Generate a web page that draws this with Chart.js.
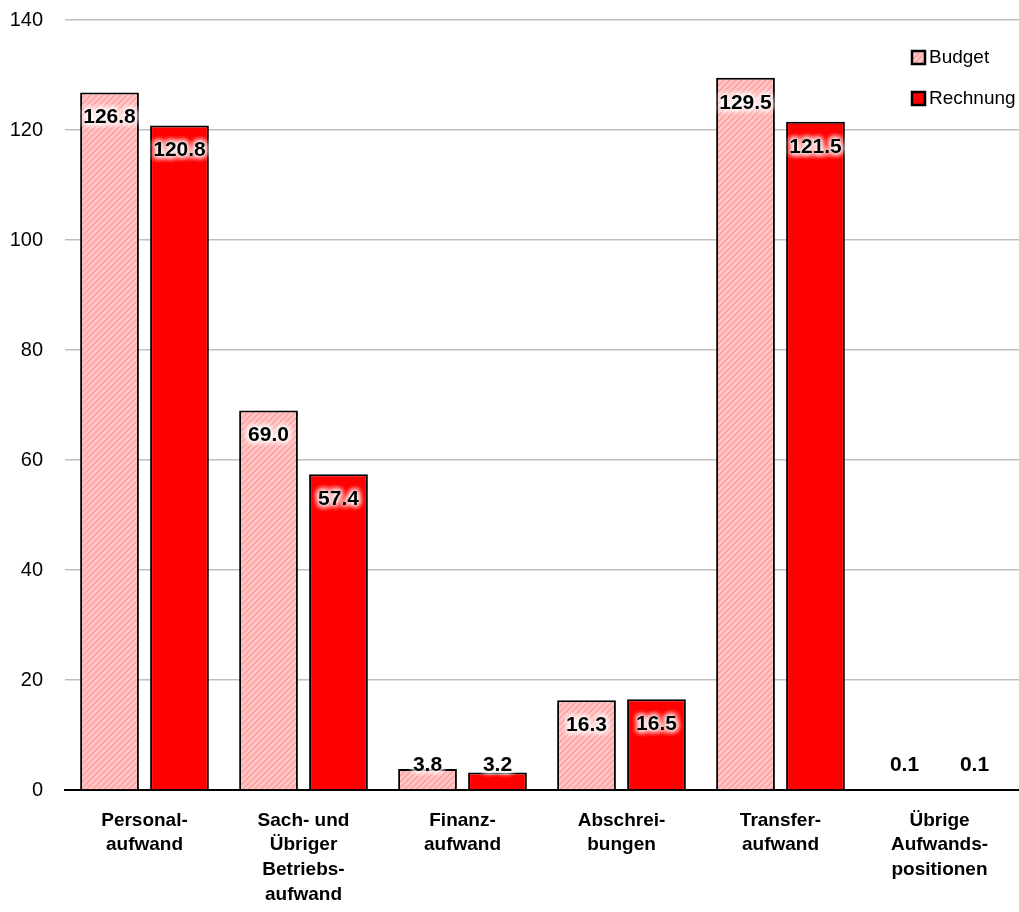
<!DOCTYPE html>
<html lang="de">
<head>
  <meta charset="UTF-8">
  <title>Aufwand Budget vs. Rechnung</title>
  <script src="https://cdn.jsdelivr.net/npm/chart.js"></script>
  <style>
    body { margin: 0; background: #fff; }
    #wrap { width: 1019px; height: 912px; }
  </style>
</head>
<body>
  <div id="wrap"><canvas id="chart"></canvas></div>

  <script>
    const categories = [
      ['Personal-', 'aufwand'],
      ['Sach- und', 'Übriger', 'Betriebs-', 'aufwand'],
      ['Finanz-', 'aufwand'],
      ['Abschrei-', 'bungen'],
      ['Transfer-', 'aufwand'],
      ['Übrige', 'Aufwands-', 'positionen']
    ];
    const budget = [126.8, 69.0, 3.8, 16.3, 129.5, 0.1];
    const rechnung = [120.8, 57.4, 3.2, 16.5, 121.5, 0.1];
    const seriesNames = ['Budget', 'Rechnung'];
    const yTicks = [0, 20, 40, 60, 80, 100, 120, 140];

    function hatch() {
      const c = document.createElement('canvas');
      c.width = 6; c.height = 6;
      const g = c.getContext('2d');
      g.fillStyle = '#ffc6c6';
      g.fillRect(0, 0, 6, 6);
      g.strokeStyle = '#ff9c9c';
      g.lineWidth = 1.4;
      g.beginPath();
      g.moveTo(0, 6); g.lineTo(6, 0);
      g.moveTo(-1, 1); g.lineTo(1, -1);
      g.moveTo(5, 7); g.lineTo(7, 5);
      g.stroke();
      return g.createPattern(c, 'repeat');
    }
    const budgetFill = hatch();

    const font = "'Liberation Sans', Arial, sans-serif";

    // value labels with white halo
    const valueLabels = {
      id: 'valueLabels',
      afterDatasetsDraw(chart) {
        const ctx = chart.ctx;
        ctx.save();
        ctx.font = 'bold 21px ' + font;
        ctx.textAlign = 'center';
        ctx.textBaseline = 'middle';
        chart.data.datasets.forEach((ds, i) => {
          chart.getDatasetMeta(i).data.forEach((bar, j) => {
            const v = ds.data[j];
            const h = bar.base - bar.y;
            const y = h > 40 ? bar.y + 25 : Math.min(bar.y - 3, bar.base - 24);
            const txt = v.toFixed(1);
            ctx.shadowColor = '#fff';
            ctx.shadowBlur = 6;
            ctx.fillStyle = '#fff';
            for (let k = 0; k < 5; k++) ctx.fillText(txt, bar.x, y);
            ctx.shadowBlur = 0;
            ctx.fillStyle = '#000';
            ctx.fillText(txt, bar.x, y);
          });
        });
        ctx.restore();
      }
    };

    // legend in upper right corner
    const boxLegend = {
      id: 'boxLegend',
      afterDraw(chart) {
        const ctx = chart.ctx;
        ctx.save();
        ctx.font = '19px ' + font;
        ctx.textBaseline = 'middle';
        chart.data.datasets.forEach((ds, i) => {
          const y = 58 + i * 41;
          const x = 912;
          ctx.fillStyle = ds.backgroundColor;
          ctx.fillRect(x, y - 7, 13, 13);
          ctx.strokeStyle = '#000';
          ctx.lineWidth = 2.5;
          ctx.strokeRect(x, y - 7, 13, 13);
          ctx.fillStyle = '#000';
          ctx.fillText(ds.label, x + 17, y);
        });
        ctx.restore();
      }
    };

    new Chart(document.getElementById('chart'), {
      type: 'bar',
      data: {
        labels: categories,
        datasets: [
          {
            label: seriesNames[0],
            data: budget,
            backgroundColor: budgetFill,
            borderColor: '#000',
            borderWidth: 2
          },
          {
            label: seriesNames[1],
            data: rechnung,
            backgroundColor: '#ff0000',
            borderColor: '#000',
            borderWidth: 2
          }
        ]
      },
      options: {
        responsive: true,
        maintainAspectRatio: false,
        animation: false,
        layout: { padding: { top: 20, right: 0, left: 0, bottom: 0 } },
        categoryPercentage: 0.88,
        barPercentage: 0.84,
        plugins: {
          legend: { display: false },
          tooltip: { enabled: false }
        },
        scales: {
          x: {
            grid: { display: false },
            border: { color: '#000', width: 2 },
            ticks: {
              color: '#000',
              font: { family: font, size: 19, weight: 'bold', lineHeight: 1.3 },
              maxRotation: 0,
              autoSkip: false,
              padding: 10
            },
            afterFit(s) { s.height = 122; s.paddingLeft = 0; s.paddingRight = 0; }
          },
          y: {
            min: 0,
            max: 140,
            afterBuildTicks(s) { s.ticks = yTicks.map(v => ({ value: v })); },
            grid: { color: '#c0c0c0', lineWidth: 1.5, drawTicks: false },
            border: { display: false },
            ticks: {
              color: '#000',
              font: { family: font, size: 20 },
              padding: 22
            },
            afterFit(s) { s.width = 65; s.paddingTop = 0; s.paddingBottom = 0; }
          }
        }
      },
      plugins: [valueLabels, boxLegend]
    });
  </script>
</body>
</html>
